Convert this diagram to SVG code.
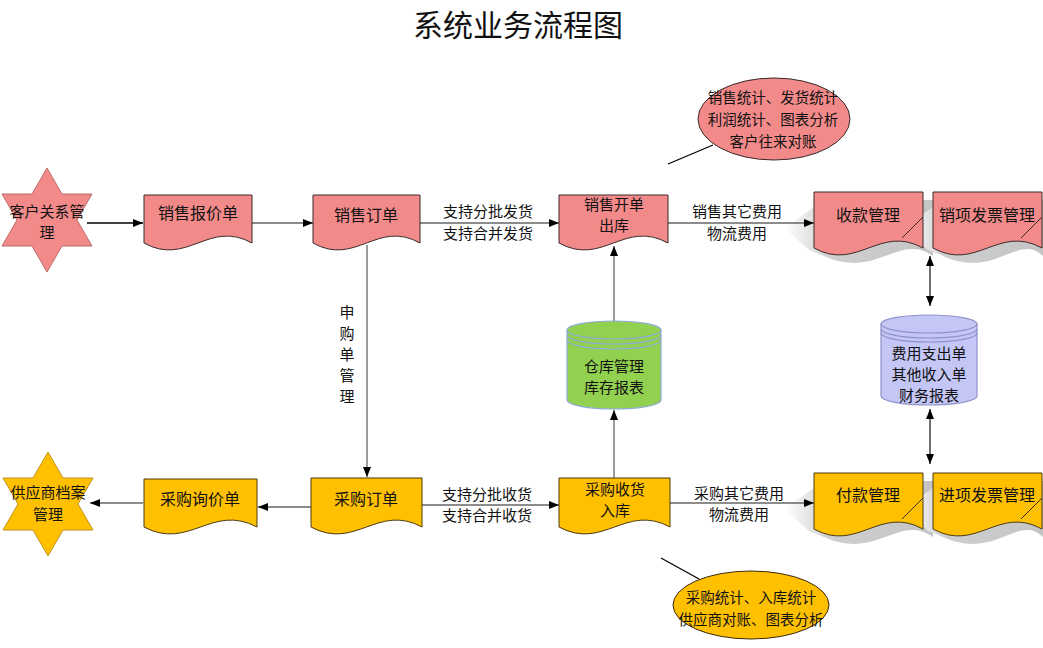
<svg xmlns="http://www.w3.org/2000/svg" width="1043" height="648" viewBox="0 0 1043 648">
<style>
text{font-family:"Noto Sans CJK SC","Noto Sans CJK JP",sans-serif;fill:#111;text-anchor:middle;font-size:16px}
.title{font-size:30px}
.ml{font-size:15px}
.sm{font-size:14.5px}
.pink{fill:#F28A8A;stroke:#3a2a2a;stroke-width:1}
.gold{fill:#FFC000;stroke:#4a3a10;stroke-width:1}
.starp{fill:#F28A8A;stroke:#c06a6a;stroke-width:1}
.stary{fill:#FFC000;stroke:#c09020;stroke-width:1}
.fold{stroke:#3a2a2a;stroke-width:1;fill:none}
.shadow{fill:url(#sg)}
.conn path{fill:none;stroke:#666;stroke-width:1.3}
.conn .blk{stroke:#000}
.conn .dbl{marker-start:url(#arr);stroke:#222}
.conn .arr{marker-end:url(#arr)}
</style>
<defs>
<marker id="arr" viewBox="0 0 10 8" refX="10" refY="4" markerWidth="10" markerHeight="8" markerUnits="userSpaceOnUse" orient="auto-start-reverse">
<path d="M0,0 L10,4 L0,8 Z" fill="#000"/>
</marker>
<linearGradient id="sg" x1="0" y1="0" x2="1" y2="0">
<stop offset="0" stop-color="#ffffff"/>
<stop offset="0.3" stop-color="#cfcfcf"/>
<stop offset="1" stop-color="#c4c4c4"/>
</linearGradient>
</defs>
<rect width="1043" height="648" fill="#fff"/>
<text class="title" x="518" y="36">系统业务流程图</text>

<g id="shadows">
<path class="shadow" d="M784,228 L824,200 H933 V256 C898.4,232 876.6,280 824,256 L809,250 Z"/>
<path class="shadow" d="M903,228 L943,200 H1043 V256 C1017.4,232 995.6,280 943,256 L928,250 Z"/>
<path class="shadow" d="M784,509 L824,481 H933 V537 C898.4,513 876.6,561 824,537 L809,531 Z"/>
<path class="shadow" d="M903,509 L943,481 H1043 V537 C1017.4,513 995.6,561 943,537 L928,531 Z"/>
</g>

<g class="conn">
<path class="blk arr" d="M87,223 H143"/>
<path class="arr" d="M252,223 H313"/>
<path class="arr" d="M420,223 H559"/>
<path class="arr" d="M668,223 H814"/>
<path class="arr" d="M367,245 V477"/>
<path class="arr" d="M614,321 V246"/>
<path class="arr" d="M614,478 V410"/>
<path class="arr" d="M311,507 H258"/>
<path class="arr" d="M143,503 H90"/>
<path class="arr" d="M422,505 H559"/>
<path class="arr" d="M670,503 H814"/>
<path class="dbl arr" d="M930,256 V306"/>
<path class="dbl arr" d="M930,409 V464"/>
<path class="blk" d="M668,164 L713,145"/>
<path class="blk" d="M661,558 L699,579"/>
</g>

<g id="lbl-sale-ship">
<text class="ml" x="488" y="217">支持分批发货</text>
<text class="ml" x="488" y="239">支持合并发货</text>
</g>
<g id="lbl-sale-fee">
<text class="ml" x="737" y="217">销售其它费用</text>
<text class="ml" x="737" y="239">物流费用</text>
</g>
<g id="lbl-purchase-recv">
<text class="ml" x="487" y="500">支持分批收货</text>
<text class="ml" x="487" y="521">支持合并收货</text>
</g>
<g id="lbl-purchase-fee">
<text class="ml" x="739" y="499">采购其它费用</text>
<text class="ml" x="739" y="520">物流费用</text>
</g>
<g id="lbl-request">
<text class="ml" x="347" y="318">申</text>
<text class="ml" x="347" y="339">购</text>
<text class="ml" x="347" y="360">单</text>
<text class="ml" x="347" y="381">管</text>
<text class="ml" x="347" y="402">理</text>
</g>

<g id="crm">
<polygon class="starp" points="47,168 62,194 92,194 77,220 92,246 62,246 47,272 32,246 2,246 17,220 2,194 32,194"/>
<text class="ml" x="47" y="217">客户关系管</text>
<text class="ml" x="47" y="238">理</text>
</g>
<g id="supplier">
<polygon class="stary" points="48,452 63,478 93,478 78,504 93,530 63,530 48,556 33,530 3,530 18,504 3,478 33,478"/>
<text class="ml" x="48" y="498">供应商档案</text>
<text class="ml" x="48" y="520">管理</text>
</g>

<g id="quote">
<path class="pink" d="M144,195 H252 V243 C208.8,219 187.2,267 144,243 Z"/>
<text x="198" y="219">销售报价单</text>
</g>
<g id="sales-order">
<path class="pink" d="M313,195 H420 V243 C377.2,219 355.8,267 313,243 Z"/>
<text x="366" y="221">销售订单</text>
</g>
<g id="sales-out">
<path class="pink" d="M559,195 H668 V243 C624.4,219 602.6,267 559,243 Z"/>
<text class="ml" x="614" y="210">销售开单</text>
<text class="ml" x="614" y="231">出库</text>
</g>
<g id="receipt">
<path class="pink" d="M814,192 H923 V248 C879.4,224 857.6,272 814,248 Z"/>
<path class="fold" d="M902,238 L923,217"/>
<text x="868" y="221">收款管理</text>
</g>
<g id="sales-invoice">
<path class="pink" d="M933,192 H1042 V248 C998.4,224 976.6,272 933,248 Z"/>
<path class="fold" d="M1021,238 L1042,217"/>
<text x="987" y="221">销项发票管理</text>
</g>

<g id="inquiry">
<path class="gold" d="M144,479 H257 V527 C211.8,503 189.2,551 144,527 Z"/>
<text x="200" y="505">采购询价单</text>
</g>
<g id="purchase-order">
<path class="gold" d="M311,478 H422 V527 C377.6,503 355.4,551 311,527 Z"/>
<text x="366" y="505">采购订单</text>
</g>
<g id="purchase-in">
<path class="gold" d="M559,478 H670 V527 C625.6,503 603.4,551 559,527 Z"/>
<text class="ml" x="615" y="495">采购收货</text>
<text class="ml" x="615" y="516">入库</text>
</g>
<g id="payment">
<path class="gold" d="M814,473 H923 V529 C879.4,505 857.6,553 814,529 Z"/>
<path class="fold" d="M902,519 L923,498"/>
<text x="868" y="501">付款管理</text>
</g>
<g id="purchase-invoice">
<path class="gold" d="M933,473 H1042 V529 C998.4,505 976.6,553 933,529 Z"/>
<path class="fold" d="M1021,519 L1042,498"/>
<text x="987" y="501">进项发票管理</text>
</g>

<g id="warehouse">
<path d="M567,330 V400 A47,9 0 0 0 661,400 V330 Z" fill="#92D050" stroke="#8eaad8" stroke-width="1.2"/>
<ellipse cx="614" cy="330" rx="47" ry="9" fill="#92D050" stroke="#8eaad8" stroke-width="1.2"/>
<path d="M567,335 A47,9 0 0 0 661,335 M567,340 A47,9 0 0 0 661,340" fill="none" stroke="#8eaad8" stroke-width="1.2"/>
<text class="ml" x="614" y="372">仓库管理</text>
<text class="ml" x="614" y="393">库存报表</text>
</g>
<g id="finance">
<path d="M881,324 V396 A48,9 0 0 0 977,396 V324 Z" fill="#C4C6F6" stroke="#8f92c8" stroke-width="1.2"/>
<ellipse cx="929" cy="324" rx="48" ry="9" fill="#C4C6F6" stroke="#8f92c8" stroke-width="1.2"/>
<path d="M881,329 A48,9 0 0 0 977,329 M881,333 A48,9 0 0 0 977,333" fill="none" stroke="#8f92c8" stroke-width="1.2"/>
<text class="ml" x="929" y="359">费用支出单</text>
<text class="ml" x="929" y="380">其他收入单</text>
<text class="ml" x="929" y="401">财务报表</text>
</g>

<g id="sales-stats">
<ellipse cx="774" cy="119" rx="76" ry="41" fill="#F28A8A" stroke="#3a2a2a" stroke-width="1"/>
<text class="sm" x="773" y="103">销售统计、发货统计</text>
<text class="sm" x="773" y="125">利润统计、图表分析</text>
<text class="sm" x="773" y="147">客户往来对账</text>
</g>
<g id="purchase-stats">
<ellipse cx="751" cy="605" rx="78" ry="34" fill="#FFC000" stroke="#3a2a10" stroke-width="1"/>
<text class="sm" x="751" y="603">采购统计、入库统计</text>
<text class="sm" x="751" y="625">供应商对账、图表分析</text>
</g>
</svg>
